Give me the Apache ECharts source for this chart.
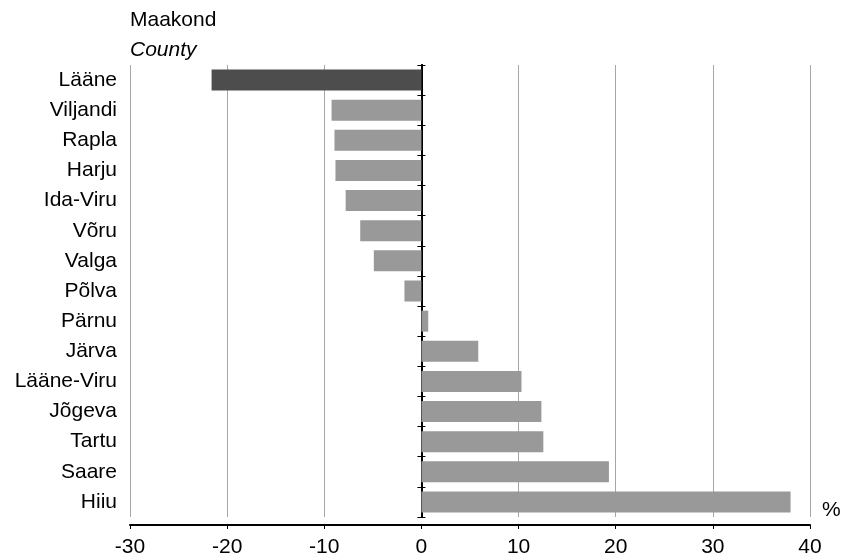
<!DOCTYPE html>
<html>
<head>
<meta charset="utf-8">
<script src="https://cdn.jsdelivr.net/npm/echarts@6/dist/echarts.min.js"></script>
<style>
  html, body { margin: 0; padding: 0; background: #fff; }
  #chart { width: 844px; height: 558px; }
</style>
</head>
<body>
<div id="chart"></div>
<script>
var counties = ['Lääne', 'Viljandi', 'Rapla', 'Harju', 'Ida-Viru', 'Võru', 'Valga', 'Põlva',
  'Pärnu', 'Järva', 'Lääne-Viru', 'Jõgeva', 'Tartu', 'Saare', 'Hiiu'];
var values = [-21.6, -9.25, -8.95, -8.85, -7.8, -6.3, -4.9, -1.75, 0.7, 5.85, 10.3, 12.35, 12.55, 19.3, 38.0];
var highlight = ['Lääne'];

var font = 'Liberation Sans, Arial, sans-serif';
var fsize = 21;
var darkcolor = '#4d4d4d';
var greycolor = '#999999';

function cal() {
  var res = [];
  for (let i = 0; i < values.length; i++) {
    let c = highlight.indexOf(counties[i]) >= 0 ? darkcolor : greycolor;
    res.push({ value: values[i], itemStyle: { color: c } });
  }
  return res;
}

// zero line axes: one ticks left, one ticks right, so the ticks cross the line
function zeroAxis(pos) {
  return {
    type: 'category',
    position: pos,
    inverse: true,
    data: counties,
    axisLine: { show: true, onZero: true, onZeroAxisIndex: 0, lineStyle: { color: '#000', width: 2 } },
    axisTick: { show: true, length: 4, lineStyle: { color: '#000', width: 1 } },
    axisLabel: { show: false },
    splitLine: { show: false }
  };
}

var chart = echarts.init(document.getElementById('chart'), null, { renderer: 'canvas' });
chart.setOption({
  animation: false,
  textStyle: { fontFamily: font },
  grid: { left: 130, right: 34, top: 65, bottom: 39, containLabel: false },
  graphic: [
    { type: 'text', left: 130, top: 10, style: { text: 'Maakond', font: fsize + 'px ' + font, fill: '#000' } },
    { type: 'text', left: 130, top: 40, style: { text: 'County', font: 'italic ' + fsize + 'px ' + font, fill: '#000' } },
    { type: 'text', left: 822, top: 500, style: { text: '%', font: fsize + 'px ' + font, fill: '#000' } }
  ],
  xAxis: {
    type: 'value',
    min: -30,
    max: 40,
    interval: 10,
    offset: 8,
    axisLine: { show: true, onZero: false, lineStyle: { color: '#000', width: 2 } },
    axisTick: { show: true, length: 4, lineStyle: { color: '#000', width: 1 } },
    axisLabel: { color: '#000', fontSize: fsize, fontFamily: font, margin: 12 },
    splitLine: { show: true, lineStyle: { color: '#a6a6a6', width: 1 } }
  },
  yAxis: [
    {
      type: 'category',
      inverse: true,
      data: counties,
      position: 'left',
      axisLine: { show: false, onZero: false },
      axisTick: { show: false },
      axisLabel: { color: '#000', fontSize: fsize, fontFamily: font, margin: 13 }
    },
    zeroAxis('left'),
    zeroAxis('right')
  ],
  series: [
    {
      type: 'bar',
      yAxisIndex: 0,
      barWidth: 21,
      data: cal(),
      z: 1
    }
  ]
});
</script>
</body>
</html>
